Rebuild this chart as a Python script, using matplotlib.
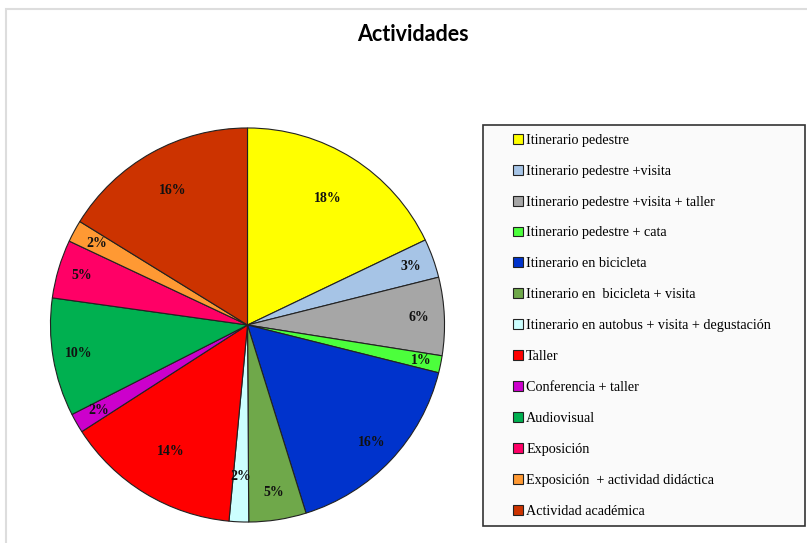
import matplotlib.pyplot as plt
from matplotlib.patches import Rectangle

# Actividades share (percent)
categories = [
    'Itinerario pedestre',
    'Itinerario pedestre +visita',
    'Itinerario pedestre +visita + taller',
    'Itinerario pedestre + cata',
    'Itinerario en bicicleta',
    'Itinerario en  bicicleta + visita',
    'Itinerario en autobus + visita + degustación',
    'Taller',
    'Conferencia + taller',
    'Audiovisual',
    'Exposición',
    'Exposición  + actividad didáctica',
    'Actividad académica',
]
values = [17.9, 3.2, 6.4, 1.4, 16.3, 4.7, 1.6, 14.4, 1.6, 9.7, 4.8, 1.8, 16.2]
colors = ['#FFFF00', '#A6C4E6', '#A6A6A6', '#4CFF3C', '#0033CC', '#6FA84A',
          '#CCFFFF', '#FF0000', '#CC00CC', '#00B050', '#FF0066', '#FF9933',
          '#CC3300']
# radial placement of each percentage label (fraction of radius)
label_dist = [0.76, 0.88, 0.87, 0.9, 0.87, 0.86, 0.77, 0.75, 0.87, 0.87, 0.88, 0.87, 0.78]

fig = plt.figure(figsize=(8.07, 5.43), dpi=100)
W, H = 807, 543

# light outer frame
fig.patches.append(Rectangle((6 / W, -0.1), 1.2, 1 - 9 / H + 0.1, transform=fig.transFigure,
                             fill=False, edgecolor='#DDDDDD', linewidth=1.5))

fig.text(413 / W, 1 - 35 / H, 'Actividades', ha='center', va='center',
         fontsize=15.5, fontweight='bold', family='Lato')

# pie axes: centre (247.5, 325), radius 199 px
cx, cy, r = 247.5, 325, 199
ax = fig.add_axes([(cx - r) / W, 1 - (cy + r) / H, 2 * r / W, 2 * r / H])
wedges, texts, autotexts = ax.pie(
    values, colors=colors, startangle=90, counterclock=False, radius=1,
    autopct='%.0f%%', pctdistance=1.0,
    wedgeprops=dict(edgecolor='#222222', linewidth=0.8),
    textprops=dict(family='Liberation Serif', fontweight='bold', fontsize=10, color='#111111'))
for d, t in zip(label_dist, autotexts):
    x, y = t.get_position()
    t.set_position((x * d, y * d))
ax.set_xlim(-1.01, 1.01)
ax.set_ylim(-1.01, 1.01)
ax.set_aspect('equal')
ax.axis('off')

# legend box
lx0, ly0, lx1, ly1 = 483, 125, 805, 526
fig.patches.append(Rectangle((lx0 / W, 1 - ly1 / H), (lx1 - lx0) / W, (ly1 - ly0) / H,
                             transform=fig.transFigure, facecolor='#FAFAFA',
                             edgecolor='#333333', linewidth=1.2))
leg = fig.legend(wedges, categories, loc='upper left',
                 bbox_to_anchor=(507 / W, 1 - 128 / H), frameon=False,
                 prop=dict(family='Liberation Serif', size=10.2),
                 handlelength=0.7, handleheight=0.7, handletextpad=0.25,
                 labelspacing=1.265, borderaxespad=0)

fig.savefig('out.png', dpi=100)
